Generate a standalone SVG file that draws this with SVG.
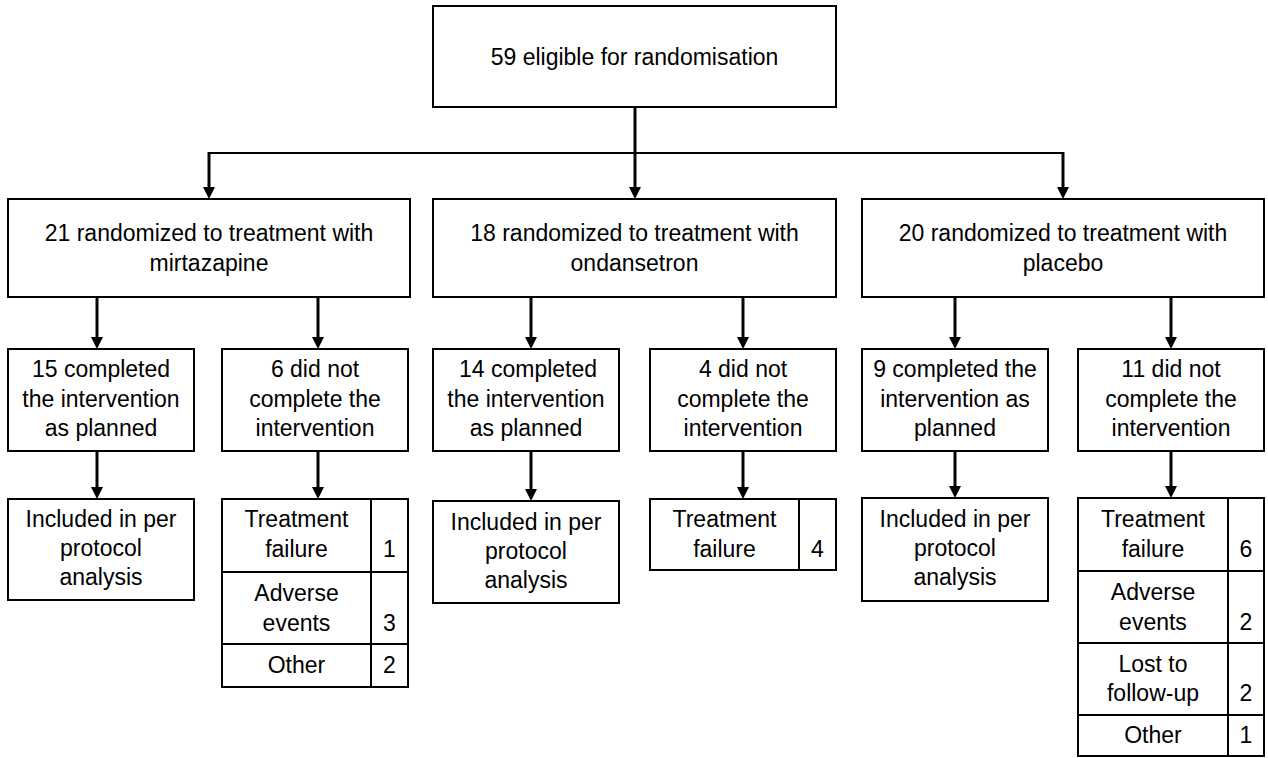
<svg xmlns="http://www.w3.org/2000/svg" width="1268" height="758" viewBox="0 0 1268 758">
<defs>
<style>
.box{fill:#fff;stroke:#000;stroke-width:2}
.div{stroke:#000;stroke-width:2;fill:none}
.t{font-family:"Liberation Sans",Arial,sans-serif;font-size:23px;fill:#000;text-anchor:middle}
.conn{stroke:#000;stroke-width:3;fill:none}
.thin{stroke:#000;stroke-width:2;fill:none}
</style>
<marker id="ah" viewBox="0 0 12 12" refX="0" refY="6" markerWidth="12" markerHeight="12" markerUnits="userSpaceOnUse" orient="auto">
<path d="M0,0 L12,6 L0,12 z" fill="#000"/>
</marker>
</defs>
<rect width="1268" height="758" fill="#fff"/>

<g id="connectors">
<line class="conn" x1="635" y1="107" x2="635" y2="187" marker-end="url(#ah)"/>
<line class="thin" x1="209" y1="153" x2="1063" y2="153"/>
<line class="conn" x1="209" y1="152" x2="209" y2="187" marker-end="url(#ah)"/>
<line class="conn" x1="1063" y1="152" x2="1063" y2="187" marker-end="url(#ah)"/>
<line class="conn" x1="97" y1="298" x2="97" y2="337" marker-end="url(#ah)"/>
<line class="conn" x1="318" y1="298" x2="318" y2="337" marker-end="url(#ah)"/>
<line class="conn" x1="531" y1="298" x2="531" y2="337" marker-end="url(#ah)"/>
<line class="conn" x1="743" y1="298" x2="743" y2="337" marker-end="url(#ah)"/>
<line class="conn" x1="955" y1="298" x2="955" y2="337" marker-end="url(#ah)"/>
<line class="conn" x1="1171" y1="298" x2="1171" y2="337" marker-end="url(#ah)"/>
<line class="conn" x1="97" y1="452" x2="97" y2="487" marker-end="url(#ah)"/>
<line class="conn" x1="318" y1="452" x2="318" y2="487" marker-end="url(#ah)"/>
<line class="conn" x1="531" y1="452" x2="531" y2="489" marker-end="url(#ah)"/>
<line class="conn" x1="743" y1="452" x2="743" y2="487" marker-end="url(#ah)"/>
<line class="conn" x1="955" y1="452" x2="955" y2="486" marker-end="url(#ah)"/>
<line class="conn" x1="1171" y1="452" x2="1171" y2="486" marker-end="url(#ah)"/>
</g>

<g id="n-eligible">
<rect class="box" x="433" y="6" width="403" height="101"/>
<text class="t" x="634.5" y="65">59 eligible for randomisation</text>
</g>

<g id="n-mirtazapine">
<rect class="box" x="8" y="199" width="402" height="98"/>
<text class="t" x="209" y="241">21 randomized to treatment with</text>
<text class="t" x="209" y="271">mirtazapine</text>
</g>
<g id="n-ondansetron">
<rect class="box" x="433" y="199" width="403" height="98"/>
<text class="t" x="634.5" y="241">18 randomized to treatment with</text>
<text class="t" x="634.5" y="271">ondansetron</text>
</g>
<g id="n-placebo">
<rect class="box" x="862" y="199" width="402" height="98"/>
<text class="t" x="1063" y="241">20 randomized to treatment with</text>
<text class="t" x="1063" y="271">placebo</text>
</g>

<g id="n-mir-completed">
<rect class="box" x="8" y="349" width="186" height="102"/>
<text class="t" x="101" y="377">15 completed</text>
<text class="t" x="101" y="407">the intervention</text>
<text class="t" x="101" y="436">as planned</text>
</g>
<g id="n-mir-notcompleted">
<rect class="box" x="222" y="349" width="186" height="102"/>
<text class="t" x="315" y="377">6 did not</text>
<text class="t" x="315" y="407">complete the</text>
<text class="t" x="315" y="436">intervention</text>
</g>
<g id="n-ond-completed">
<rect class="box" x="433" y="349" width="186" height="102"/>
<text class="t" x="528" y="377">14 completed</text>
<text class="t" x="526" y="407">the intervention</text>
<text class="t" x="526" y="436">as planned</text>
</g>
<g id="n-ond-notcompleted">
<rect class="box" x="650" y="349" width="186" height="102"/>
<text class="t" x="743" y="377">4 did not</text>
<text class="t" x="743" y="407">complete the</text>
<text class="t" x="743" y="436">intervention</text>
</g>
<g id="n-pla-completed">
<rect class="box" x="862" y="349" width="186" height="102"/>
<text class="t" x="955" y="377">9 completed the</text>
<text class="t" x="955" y="407">intervention as</text>
<text class="t" x="955" y="436">planned</text>
</g>
<g id="n-pla-notcompleted">
<rect class="box" x="1078" y="349" width="186" height="102"/>
<text class="t" x="1171" y="377">11 did not</text>
<text class="t" x="1171" y="407">complete the</text>
<text class="t" x="1171" y="436">intervention</text>
</g>

<g id="n-mir-pp">
<rect class="box" x="8" y="499" width="186" height="101"/>
<text class="t" x="101" y="527">Included in per</text>
<text class="t" x="101" y="556">protocol</text>
<text class="t" x="101" y="585">analysis</text>
</g>
<g id="n-ond-pp">
<rect class="box" x="433" y="501" width="186" height="102"/>
<text class="t" x="526" y="530">Included in per</text>
<text class="t" x="526" y="559">protocol</text>
<text class="t" x="526" y="588">analysis</text>
</g>
<g id="n-pla-pp">
<rect class="box" x="862" y="498" width="186" height="103"/>
<text class="t" x="955" y="527">Included in per</text>
<text class="t" x="955" y="556">protocol</text>
<text class="t" x="955" y="585">analysis</text>
</g>

<g id="n-mir-reasons">
<rect class="box" x="222" y="499" width="186" height="188"/>
<line class="div" x1="371" y1="499" x2="371" y2="687"/>
<line class="div" x1="222" y1="572" x2="408" y2="572"/>
<line class="div" x1="222" y1="644" x2="408" y2="644"/>
<text class="t" x="296.5" y="527">Treatment</text>
<text class="t" x="296.5" y="557">failure</text>
<text class="t" x="389.5" y="557">1</text>
<text class="t" x="296.5" y="601">Adverse</text>
<text class="t" x="296.5" y="631">events</text>
<text class="t" x="389.5" y="631">3</text>
<text class="t" x="296.5" y="673">Other</text>
<text class="t" x="389.5" y="673">2</text>
</g>

<g id="n-ond-reasons">
<rect class="box" x="650" y="499" width="186" height="71"/>
<line class="div" x1="799" y1="499" x2="799" y2="570"/>
<text class="t" x="724.5" y="527">Treatment</text>
<text class="t" x="724.5" y="557">failure</text>
<text class="t" x="817.5" y="557">4</text>
</g>

<g id="n-pla-reasons">
<rect class="box" x="1078" y="498" width="186" height="258"/>
<line class="div" x1="1228" y1="498" x2="1228" y2="756"/>
<line class="div" x1="1078" y1="571" x2="1264" y2="571"/>
<line class="div" x1="1078" y1="643" x2="1264" y2="643"/>
<line class="div" x1="1078" y1="715" x2="1264" y2="715"/>
<text class="t" x="1153" y="527">Treatment</text>
<text class="t" x="1153" y="557">failure</text>
<text class="t" x="1246" y="557">6</text>
<text class="t" x="1153" y="600">Adverse</text>
<text class="t" x="1153" y="630">events</text>
<text class="t" x="1246" y="630">2</text>
<text class="t" x="1153" y="672">Lost to</text>
<text class="t" x="1153" y="701">follow-up</text>
<text class="t" x="1246" y="701">2</text>
<text class="t" x="1153" y="743">Other</text>
<text class="t" x="1246" y="743">1</text>
</g>
</svg>
